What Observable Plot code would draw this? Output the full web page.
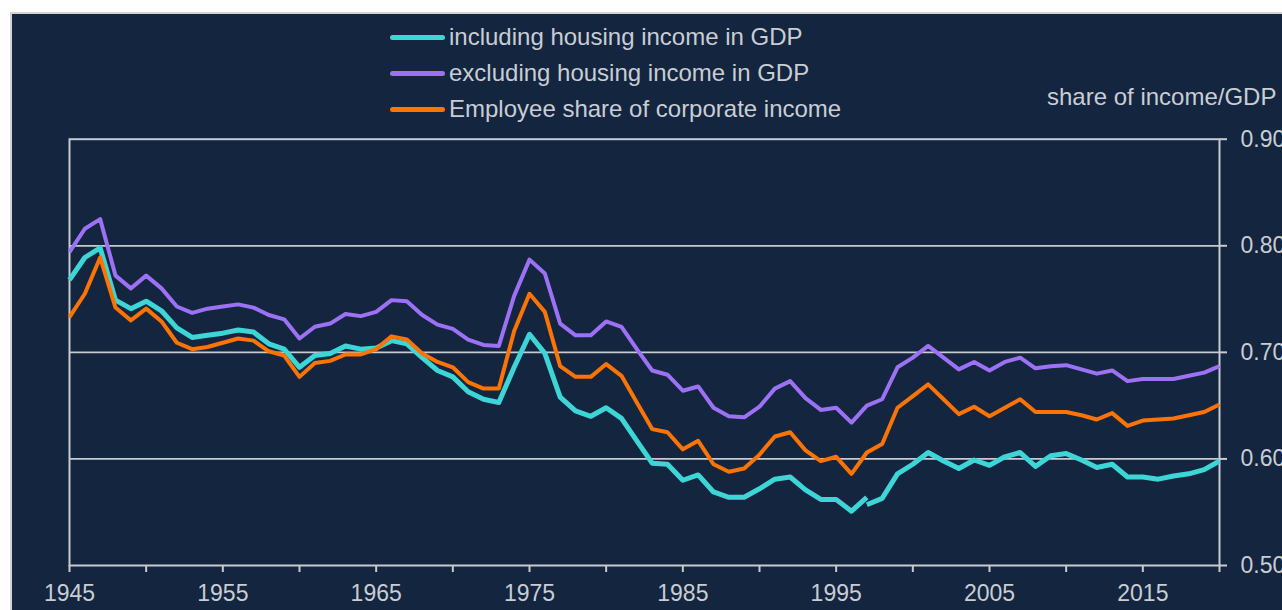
<!DOCTYPE html>
<html>
<head>
<meta charset="utf-8">
<script src="https://cdn.jsdelivr.net/npm/d3@7"></script>
<script src="https://cdn.jsdelivr.net/npm/@observablehq/plot@0.6"></script>
<style>
  html, body { margin: 0; padding: 0; background: #ffffff; }
  #wrap { position: relative; width: 1282px; height: 610px; overflow: hidden; font-family: "Liberation Sans", Arial, sans-serif; }
  #panel { position: absolute; left: 10px; top: 12px; width: 1300px; height: 620px; background: #13253f; border-left: 2px solid #d2d2d2; border-top: 2px solid #d2d2d2; }
  #header { position: absolute; left: 0; top: 0; width: 1282px; height: 120px; }
  .sw { position: absolute; left: 390px; width: 55px; border-radius: 3px; }
  .lt { position: absolute; left: 449px; font-size: 24px; line-height: 28px; color: #c9cdd4; white-space: nowrap; }
  #ylab { position: absolute; left: 1047px; top: 82.7px; font-size: 24px; line-height: 28px; color: #c9cdd4; white-space: nowrap; }
  #chart { position: absolute; left: 0; top: 120px; }
</style>
</head>
<body>
<div id="wrap">
  <div id="panel"></div>
  <div id="header"></div>
  <div id="chart"></div>
</div>
<script>
// ---- data ----
const years = d3.range(1945, 2021); // 1945 .. 2020
const seriesNames = ["including housing income in GDP", "excluding housing income in GDP", "Employee share of corporate income"];
const seriesColors = ["#3dd5d6", "#9d71f6", "#ff7300"];

// including housing income in GDP (two segments: 1945-1997 and 1997-2020)
const inclStart1 = 1945;
const incl1 = [0.768,0.789,0.798,0.749,0.741,0.748,0.739,0.723,0.714,0.716,
               0.718,0.721,0.719,0.708,0.703,0.686,0.697,0.699,0.706,0.703,
               0.704,0.711,0.708,0.695,0.683,0.677,0.663,0.656,0.653,0.686,
               0.717,0.699,0.658,0.645,0.640,0.648,0.638,0.617,0.596,0.595,
               0.580,0.585,0.569,0.564,0.564,0.572,0.581,0.583,0.571,0.562,
               0.562,0.551,0.564];
const inclStart2 = 1997;
const incl2 = [0.557,0.563,0.586,0.595,0.606,0.598,0.591,0.599,0.594,0.602,
               0.606,0.593,0.603,0.605,0.599,0.592,0.595,0.583,0.583,0.581,
               0.584,0.586,0.590,0.598];

// excluding housing income in GDP, 1945-2020
const excl = [0.794,0.816,0.825,0.772,0.760,0.772,0.760,0.743,0.737,0.741,
              0.743,0.745,0.742,0.735,0.731,0.713,0.724,0.727,0.736,0.734,
              0.738,0.749,0.748,0.735,0.726,0.722,0.712,0.707,0.706,0.753,
              0.787,0.774,0.727,0.716,0.716,0.729,0.724,0.703,0.683,0.679,
              0.664,0.668,0.648,0.640,0.639,0.649,0.666,0.673,0.657,0.646,
              0.648,0.634,0.650,0.656,0.686,0.695,0.706,0.695,0.684,0.691,
              0.683,0.691,0.695,0.685,0.687,0.688,0.684,0.680,0.683,0.673,
              0.675,0.675,0.675,0.678,0.681,0.687];

// Employee share of corporate income, 1945-2020
const emp = [0.733,0.755,0.789,0.742,0.730,0.741,0.729,0.709,0.703,0.705,
             0.709,0.713,0.711,0.701,0.697,0.677,0.690,0.692,0.698,0.698,
             0.703,0.715,0.712,0.699,0.691,0.686,0.672,0.666,0.666,0.720,
             0.755,0.738,0.687,0.677,0.677,0.689,0.678,0.653,0.628,0.625,
             0.609,0.617,0.595,0.588,0.591,0.604,0.621,0.625,0.608,0.598,
             0.602,0.586,0.606,0.614,0.648,0.659,0.670,0.656,0.642,0.649,
             0.640,0.648,0.656,0.644,0.644,0.644,0.641,0.637,0.643,0.631,
             0.636,0.637,0.638,0.641,0.644,0.651];

const xTicks = d3.range(1945, 2021, 5);
const xLabelYears = [1945, 1955, 1965, 1975, 1985, 1995, 2005, 2015];
const yTicks = [0.5, 0.6, 0.7, 0.8, 0.9];
const yGrid = [0.6, 0.7, 0.8];
const yLabel = "share of income/GDP";

// ---- build rows ----
const rows = [];
incl1.forEach((v, i) => rows.push({year: inclStart1 + i, value: v, s: 0, seg: "a"}));
incl2.forEach((v, i) => rows.push({year: inclStart2 + i, value: v, s: 0, seg: "b"}));
excl.forEach((v, i) => rows.push({year: years[i], value: v, s: 1, seg: "c"}));
emp.forEach((v, i) => rows.push({year: years[i], value: v, s: 2, seg: "d"}));

// ---- header (legend + axis title) ----
const header = document.getElementById("header");
const tops = [23.4, 59.4, 95.4];
const swW = [5, 4.5, 4.5];
seriesNames.forEach((name, i) => {
  const sw = document.createElement("div");
  sw.className = "sw";
  sw.style.background = seriesColors[i];
  sw.style.height = swW[i] + "px";
  sw.style.top = (tops[i] + 14.3 - swW[i] / 2) + "px";
  header.appendChild(sw);
  const t = document.createElement("div");
  t.className = "lt";
  t.style.top = tops[i] + "px";
  t.textContent = name;
  header.appendChild(t);
});
const yl = document.createElement("div");
yl.id = "ylab";
yl.textContent = yLabel;
header.appendChild(yl);

// ---- chart ----
const gray = "#c8cacf";
const widths = [5, 4, 4];
const chart = Plot.plot({
  width: 1282,
  height: 490,
  marginLeft: 69,
  marginRight: 63,
  marginTop: 18.7,
  marginBottom: 45,
  style: {background: "transparent", color: "#c9cdd4", fontFamily: "'Liberation Sans', Arial, sans-serif", fontSize: "23px"},
  x: {domain: [1945, 2020]},
  y: {domain: [0.5, 0.9]},
  marks: [
    Plot.gridY(yGrid, {stroke: gray, strokeOpacity: 1, strokeWidth: 1.8}),
    Plot.frame({stroke: gray, strokeWidth: 2}),
    Plot.axisX({ticks: xTicks, tickFormat: d => xLabelYears.includes(d) ? String(d) : "", tickSize: 7, tickPadding: 12, label: null, stroke: gray, strokeWidth: 2, fontSize: 23}),
    Plot.axisY({anchor: "right", ticks: yTicks, tickFormat: d3.format(".2f"), tickSize: 7, tickPadding: 14, label: null, stroke: gray, strokeWidth: 2, fontSize: 23}),
    ...[0, 1, 2].map(s => Plot.line(rows.filter(r => r.s === s), {
      x: "year", y: "value", z: "seg",
      stroke: seriesColors[s], strokeWidth: widths[s],
      strokeLinejoin: "round", strokeLinecap: "butt"
    }))
  ]
});
document.getElementById("chart").appendChild(chart);
</script>
</body>
</html>
